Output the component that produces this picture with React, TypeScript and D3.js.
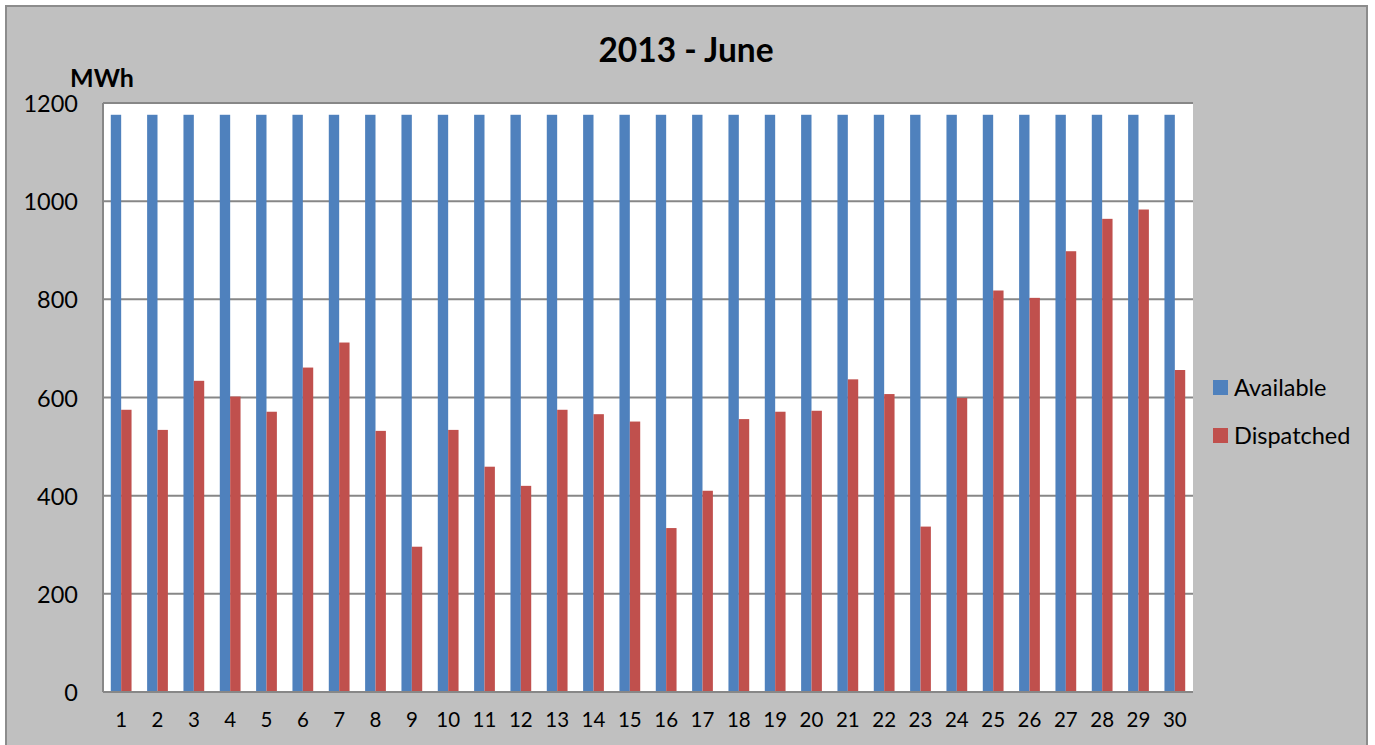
import React, { useEffect, useRef } from 'react'
import * as d3 from 'd3'

// June 2013, daily energy (MWh)
const days = d3.range(1, 31).map(String)
const available = [
  1176, 1176, 1176, 1176, 1176, 1176, 1176, 1176, 1176, 1176,
  1176, 1176, 1176, 1176, 1176, 1176, 1176, 1176, 1176, 1176,
  1176, 1176, 1176, 1176, 1176, 1176, 1176, 1176, 1176, 1176,
]
const dispatched = [
  575, 534, 634, 602, 571, 661, 712, 532, 296, 534,
  459, 420, 575, 566, 551, 334, 410, 556, 571, 573,
  637, 607, 337, 599, 818, 803, 898, 964, 983, 656,
]
const seriesNames = ['Available', 'Dispatched']
const seriesColors = ['#4F81BD', '#C0504D']
const yTicks = [0, 200, 400, 600, 800, 1000, 1200]

const W = 1375
const H = 745
const FONT = 'Lato, "Open Sans", sans-serif'

const App = () => {
  const svgRef = useRef(null)

  useEffect(() => {
    const svg = d3.select(svgRef.current)
    svg.selectAll('*').remove()

    const margin = { left: 103, right: 1193, top: 103, bottom: 692 }

    // chart frame
    svg.append('rect')
      .attr('x', 6).attr('y', 6)
      .attr('width', 1361).attr('height', 760)
      .attr('fill', '#C0C0C0')
      .attr('stroke', '#8C8C8C')
      .attr('stroke-width', 2)

    // plot area
    svg.append('rect')
      .attr('x', margin.left).attr('y', margin.top)
      .attr('width', margin.right - margin.left)
      .attr('height', margin.bottom - margin.top)
      .attr('fill', '#FFFFFF')

    const x0 = d3.scaleBand()
      .domain(days)
      .range([margin.left, margin.right])
      .paddingInner(1.5 / 3.5)
      .paddingOuter(0.75 / 3.5)

    const x1 = d3.scaleBand()
      .domain(seriesNames)
      .range([0, x0.bandwidth()])

    const y = d3.scaleLinear()
      .domain([0, 1200])
      .range([margin.bottom, margin.top])

    // gridlines
    svg.append('g')
      .selectAll('line')
      .data(yTicks)
      .enter()
      .append('line')
      .attr('x1', margin.left)
      .attr('x2', margin.right)
      .attr('y1', d => y(d))
      .attr('y2', d => y(d))
      .attr('stroke', '#878787')
      .attr('stroke-width', 2)

    // y tick labels
    svg.append('g')
      .selectAll('text')
      .data(yTicks)
      .enter()
      .append('text')
      .attr('x', 78)
      .attr('y', d => y(d) + 9)
      .attr('text-anchor', 'end')
      .style('font-family', FONT)
      .style('font-size', '23.5px')
      .attr('fill', '#000')
      .text(d => d)

    // bars
    const data = days.map((d, i) => ({ day: d, values: [available[i], dispatched[i]] }))
    const groups = svg.append('g')
      .selectAll('g')
      .data(data)
      .enter()
      .append('g')
      .attr('transform', d => `translate(${x0(d.day)},0)`)

    groups.selectAll('rect')
      .data(d => d.values.map((v, k) => ({ key: seriesNames[k], v, k })))
      .enter()
      .append('rect')
      .attr('x', d => x1(d.key))
      .attr('width', x1.bandwidth())
      .attr('y', d => y(d.v))
      .attr('height', d => y(0) - y(d.v))
      .attr('fill', d => seriesColors[d.k])

    // axis lines
    svg.append('line')
      .attr('x1', margin.left).attr('x2', margin.left)
      .attr('y1', margin.top).attr('y2', margin.bottom)
      .attr('stroke', '#878787').attr('stroke-width', 2)
    svg.append('line')
      .attr('x1', margin.left).attr('x2', margin.right)
      .attr('y1', margin.bottom).attr('y2', margin.bottom)
      .attr('stroke', '#878787').attr('stroke-width', 2)

    // x labels
    svg.append('g')
      .selectAll('text')
      .data(days)
      .enter()
      .append('text')
      .attr('x', d => x0(d) + x0.bandwidth() / 2)
      .attr('y', 727)
      .attr('text-anchor', 'middle')
      .style('font-family', FONT)
      .style('font-size', '20.5px')
      .attr('fill', '#000')
      .text(d => d)

    // title + unit
    svg.append('text')
      .attr('x', 686).attr('y', 62)
      .attr('text-anchor', 'middle')
      .style('font-family', FONT)
      .style('font-weight', 'bold')
      .style('font-size', '33.5px')
      .attr('fill', '#000')
      .text('2013 - June')

    svg.append('text')
      .attr('x', 70).attr('y', 87)
      .style('font-family', FONT)
      .style('font-weight', 'bold')
      .style('font-size', '25px')
      .attr('fill', '#000')
      .text('MWh')

    // legend
    const legend = svg.append('g')
      .selectAll('g')
      .data(seriesNames)
      .enter()
      .append('g')
      .attr('transform', (d, i) => `translate(1213,${380 + i * 48})`)
    legend.append('rect')
      .attr('width', 15).attr('height', 15)
      .attr('fill', (d, i) => seriesColors[i])
    legend.append('text')
      .attr('x', 21).attr('y', 15.5)
      .style('font-family', FONT)
      .style('font-size', '23.5px')
      .attr('fill', '#000')
      .text(d => d)
  }, [])

  return (
    <div style={{ position: 'absolute', left: 0, top: 0, width: W, height: H, background: '#fff' }}>
      <svg ref={svgRef} width={W} height={H} style={{ display: 'block' }} />
    </div>
  )
}

export default App
